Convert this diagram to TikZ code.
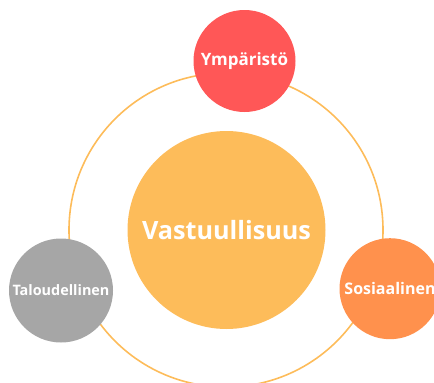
\documentclass[tikz,border=0pt]{standalone}
\usepackage{fontspec}
\setmainfont{Open Sans}
\definecolor{keltainen}{HTML}{FDBC5A}
\definecolor{punainen}{HTML}{FF5757}
\definecolor{oranssi}{HTML}{FF914D}
\definecolor{harmaa}{HTML}{A6A6A6}
\tikzset{%
	pallo/.style={circle, inner sep=0pt, text=white, font=\bfseries\fontsize{15}{18}\selectfont},
	rengas/.style={circle, draw=keltainen, line width=1.6pt, inner sep=0pt, minimum size=314pt}}

\begin{document}
\begin{tikzpicture}[x=1pt, y=-1pt]
		\useasboundingbox (0,0) rectangle (434,383);
		\clip (0,0) rectangle (434,383);
		\node[rengas] (R) at (226,230) {};
		\node[pallo, fill=keltainen, minimum size=198pt, font=\bfseries\fontsize{25.2}{30}\selectfont] (VA) at (226.5,230) {Vastuullisuus};
		\node[pallo, fill=punainen, minimum size=102pt, font=\bfseries\fontsize{17}{20}\selectfont] (YM) at (244.5,61) {Ympäristö};
		\node[pallo, fill=harmaa, minimum size=104pt, font=\bfseries\fontsize{14.4}{17}\selectfont] (TA) at (61,290.5) {Taloudellinen};
		\node[pallo, fill=oranssi, minimum size=101pt, font=\bfseries\fontsize{16}{19}\selectfont] (SO) at (390,288.7) {Sosiaalinen};
	\end{tikzpicture}
\end{document}
